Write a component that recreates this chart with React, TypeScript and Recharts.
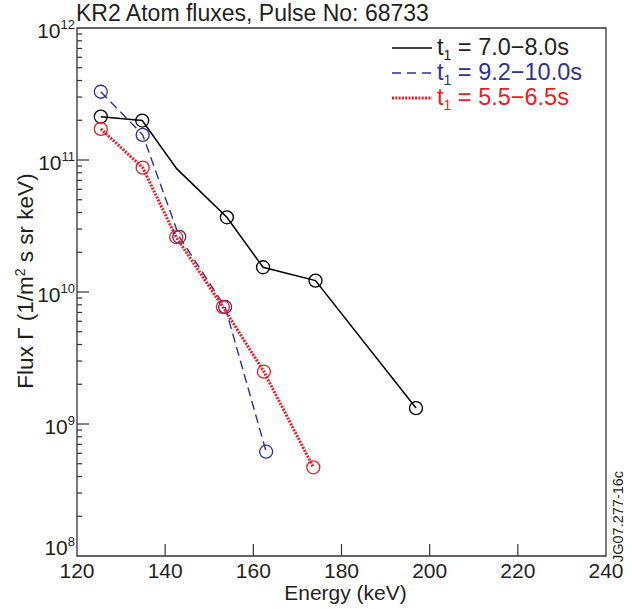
import { LineChart, Line, XAxis, YAxis, ReferenceArea, Legend } from "recharts"

// KR2 atom flux spectra, pulse 68733
const energyA = [125.4, 134.8, 142.6, 154.0, 162.2, 174.1, 196.9]
const fluxA = [2.13e11, 1.99e11, 8.6e10, 3.68e10, 1.54e10, 1.22e10, 1.32e9]
const markerA = [true, true, false, true, true, true, true]

const energyB = [125.4, 134.9, 143.2, 153.6, 162.9]
const fluxB = [3.29e11, 1.55e11, 2.62e10, 7.7e9, 6.17e8]

const energyC = [125.4, 134.9, 142.5, 153.1, 162.4, 173.6]
const fluxC = [1.72e11, 8.75e10, 2.6e10, 7.7e9, 2.49e9, 4.7e8]

const seriesLabels = ["7.0\u22128.0s", "9.2\u221210.0s", "5.5\u22126.5s"]
const xTicks = [120, 140, 160, 180, 200, 220, 240]
const yExponents = [8, 9, 10, 11, 12]
const minorSteps = [2, 3, 4, 5, 6, 7, 8, 9]

const FONT = "'Liberation Sans', Arial, Helvetica, sans-serif"
const INK = "#231f20"
const BLUE = "#2e3192"
const RED = "#ed1c24"

const rowsA = energyA.map((e, i) => ({ energy: e, flux: fluxA[i], marker: markerA[i] }))
const rowsB = energyB.map((e, i) => ({ energy: e, flux: fluxB[i], marker: true }))
const rowsC = energyC.map((e, i) => ({ energy: e, flux: fluxC[i], marker: true }))

const yTicks: number[] = []
yExponents.forEach((p) => {
  yTicks.push(Math.pow(10, p))
  if (p < 12) minorSteps.forEach((k) => yTicks.push(k * Math.pow(10, p)))
})

function ringDot(color: string) {
  return (props: any) => {
    const { cx, cy, payload, index } = props
    if (!payload?.marker || cx == null || cy == null) return <g key={`d-${index}`} />
    return (
      <circle
        key={`d-${index}`}
        cx={cx}
        cy={cy}
        r={6.5}
        fill="none"
        stroke={color}
        strokeWidth={1.3}
      />
    )
  }
}

function YTick({ x, y, payload }: any) {
  const v = payload.value
  const p = Math.round(Math.log10(v))
  const major = Math.abs(v - Math.pow(10, p)) < v * 1e-6
  const edge = major && (p === 8 || p === 12)
  return (
    <g>
      {!edge && (
        <line x1={x} y1={y} x2={x + (major ? 12 : 5)} y2={y} stroke="#333" strokeWidth={1.2} />
      )}
      {major && (
        <text
          x={x - 2}
          y={y + (p === 8 ? -1 : 10)}
          textAnchor="end"
          fontSize={21}
          fontFamily={FONT}
          fill={INK}
        >
          10
          <tspan dy={-9} fontSize={13}>
            {p}
          </tspan>
        </text>
      )}
    </g>
  )
}

function XTick({ x, y, payload }: any) {
  const v = payload.value
  const edge = v === 120 || v === 240
  return (
    <g>
      {!edge && <line x1={x} y1={y} x2={x} y2={y - 12} stroke="#333" strokeWidth={1.2} />}
      <text x={x} y={y + 22} textAnchor="middle" fontSize={21} fontFamily={FONT} fill={INK}>
        {v}
      </text>
    </g>
  )
}

function FluxLabel({ viewBox }: any) {
  const cx = viewBox.x + 33
  const cy = viewBox.y + viewBox.height / 2 - 11
  return (
    <text
      transform={`translate(${cx},${cy}) rotate(-90)`}
      textAnchor="middle"
      fontSize={22.5}
      fontFamily={FONT}
      fill={INK}
    >
      Flux {"\u0393"} (1/m
      <tspan dy={-8} fontSize={14}>
        2
      </tspan>
      <tspan dy={8}> s sr keV)</tspan>
    </text>
  )
}

function EnergyLabel({ viewBox }: any) {
  return (
    <text
      x={viewBox.x + viewBox.width / 2 + 4}
      y={viewBox.y + 44}
      textAnchor="middle"
      fontSize={21}
      fontFamily={FONT}
      fill={INK}
    >
      Energy (keV)
    </text>
  )
}

function Sample({ kind }: { kind: number }) {
  if (kind === 0) return <line x1={0} y1={6} x2={40} y2={6} stroke="#000" strokeWidth={1.5} />
  if (kind === 1)
    return <line x1={0} y1={6} x2={40} y2={6} stroke={BLUE} strokeWidth={1.4} strokeDasharray="9 6" />
  return <line x1={0} y1={6} x2={40} y2={6} stroke={RED} strokeWidth={3} strokeDasharray="2 1.3" />
}

function LegendBox() {
  const colors = [INK, BLUE, RED]
  return (
    <div style={{ fontFamily: FONT, fontSize: 23.5 }}>
      {seriesLabels.map((lab, i) => (
        <div key={lab} style={{ display: "flex", alignItems: "center", height: 25 }}>
          <svg width={42} height={12} style={{ display: "block" }}>
            <Sample kind={i} />
          </svg>
          <span style={{ marginLeft: 3, color: colors[i], whiteSpace: "nowrap", lineHeight: "25px" }}>
            t
            <sub style={{ fontSize: 14, verticalAlign: "-5px", lineHeight: 0 }}>1</sub> = {lab}
          </span>
        </div>
      ))}
    </div>
  )
}

export default function App() {
  return (
    <div style={{ position: "absolute", left: 0, top: 0, width: 632, height: 609, background: "#fff" }}>
      <LineChart width={632} height={609} margin={{ top: 28, right: 26, bottom: 0, left: 0 }}>
        <XAxis
          dataKey="energy"
          type="number"
          domain={[120, 240]}
          ticks={xTicks}
          interval={0}
          allowDataOverflow
          axisLine={false}
          tickLine={false}
          tickSize={0}
          tickMargin={0}
          height={53}
          tick={<XTick />}
          label={(props: any) => <EnergyLabel {...props} />}
        />
        <YAxis
          type="number"
          scale="log"
          domain={[1e8, 1e12]}
          ticks={yTicks}
          interval={0}
          allowDataOverflow
          axisLine={false}
          tickLine={false}
          tickSize={0}
          tickMargin={0}
          width={77}
          tick={<YTick />}
          label={(props: any) => <FluxLabel {...props} />}
        />
        <ReferenceArea
          x1={120}
          x2={240}
          y1={1e8}
          y2={1e12}
          fill="none"
          stroke="#333"
          strokeWidth={1.3}
          ifOverflow="visible"
        />
        <Legend
          layout="horizontal"
          verticalAlign="middle"
          align="center"
          content={() => <LegendBox />}
          wrapperStyle={{ top: 35, left: 392, width: 230 }}
        />
        <Line
          data={rowsA}
          dataKey="flux"
          stroke="#000"
          strokeWidth={1.5}
          dot={ringDot("#000")}
          activeDot={false}
          isAnimationActive={false}
        />
        <Line
          data={rowsB}
          dataKey="flux"
          stroke={BLUE}
          strokeWidth={1.4}
          strokeDasharray="9 5"
          dot={ringDot(BLUE)}
          activeDot={false}
          isAnimationActive={false}
        />
        <Line
          data={rowsC}
          dataKey="flux"
          stroke={RED}
          strokeWidth={3}
          strokeDasharray="2 1.3"
          dot={ringDot(RED)}
          activeDot={false}
          isAnimationActive={false}
        />
      </LineChart>
      <svg
        width={632}
        height={609}
        style={{ position: "absolute", left: 0, top: 0, pointerEvents: "none" }}
      >
        <text x={76} y={21} fontSize={23} fontFamily={FONT} fill={INK}>
          KR2 Atom fluxes, Pulse No: 68733
        </text>
        <text
          transform="translate(623,562) rotate(-90)"
          fontSize={14.5}
          fontFamily={FONT}
          fill={INK}
        >
          JG07.277-16c
        </text>
      </svg>
    </div>
  )
}
